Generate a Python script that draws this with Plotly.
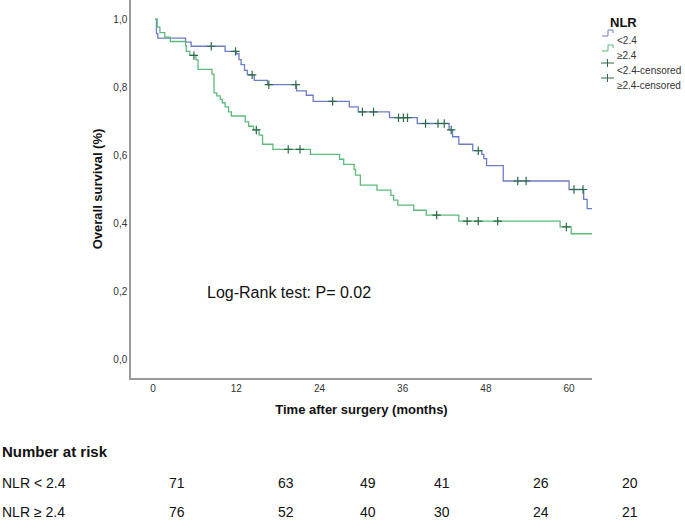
import plotly.graph_objects as go

# Kaplan-Meier steps (months, survival proportion)
low_t = [0.3, 0.5, 0.7, 4.7, 5.5, 10.4, 12.0, 12.4, 12.7, 13.2, 13.6, 14.6, 16.5,
         20.7, 22.1, 23.1, 28.3, 29.6, 34.1, 38.1, 42.7, 43.2, 44.1, 46.1, 47.4,
         47.7, 48.1, 50.5, 60.0, 62.1, 62.6, 63.3]
low_s = [1.0, 0.957, 0.944, 0.932, 0.920, 0.905, 0.898, 0.881, 0.866, 0.849, 0.836,
         0.820, 0.807, 0.789, 0.776, 0.758, 0.742, 0.727, 0.710, 0.693, 0.674, 0.654,
         0.632, 0.613, 0.602, 0.590, 0.569, 0.524, 0.499, 0.470, 0.443, 0.443]
low_cens = [8.4, 11.9, 14.3, 16.7, 20.6, 25.9, 30.2, 31.8, 35.4, 36.1, 36.7, 39.3,
            41.1, 42.0, 43.0, 46.9, 52.6, 53.8, 60.7, 62.0]

high_t = [0.3, 0.6, 1.0, 1.7, 2.5, 4.7, 4.8, 5.3, 6.2, 6.5, 8.5, 8.8, 9.2, 9.7, 10.0,
          10.4, 10.9, 11.3, 13.3, 13.8, 14.5, 15.3, 15.8, 17.3, 22.7, 26.9, 27.5,
          29.0, 29.2, 29.9, 32.3, 34.3, 34.7, 35.3, 37.6, 39.4, 44.1, 58.7, 60.3, 63.3]
high_s = [1.0, 0.976, 0.960, 0.947, 0.934, 0.922, 0.905, 0.893, 0.880, 0.852, 0.838,
          0.783, 0.774, 0.764, 0.754, 0.742, 0.727, 0.715, 0.698, 0.685, 0.674, 0.659,
          0.632, 0.617, 0.602, 0.588, 0.573, 0.558, 0.541, 0.512, 0.497, 0.482, 0.468,
          0.453, 0.438, 0.424, 0.406, 0.389, 0.369, 0.369]
high_cens = [5.9, 14.9, 19.5, 21.2, 40.9, 45.3, 46.9, 49.7, 59.6]

legend_names = ["<2.4", "\u22652.4", "<2.4-censored", "\u22652.4-censored"]

risk_label = ["NLR < 2.4", "NLR \u2265 2.4"]
risk_low = [71, 63, 49, 41, 26, 20]
risk_high = [76, 52, 40, 30, 24, 21]

x_ticks = [0, 12, 24, 36, 48, 60]
y_ticks = [0.0, 0.2, 0.4, 0.6, 0.8, 1.0]
y_ticktext = ["0,0", "0,2", "0,4", "0,6", "0,8", "1,0"]

BLUE = "#6d7cc6"
GREEN = "#5dba7c"
DARK = "#2b6a45"
FONT = "Liberation Sans, Arial, sans-serif"

# plot area in pixels
W, H, L, T = 461, 378, 131, 0


def px_x(px):
    return (px - L) / W


def px_y(py):
    return (H + T - py) / H


def surv_at(times, surv, t):
    s = surv[0]
    for ti, si in zip(times, surv):
        if ti <= t:
            s = si
    return s


fig = go.Figure()
fig.add_trace(go.Scatter(x=low_t, y=low_s, mode="lines", name=legend_names[0],
                         line=dict(color=BLUE, width=1.3, shape="hv")))
fig.add_trace(go.Scatter(x=high_t, y=high_s, mode="lines", name=legend_names[1],
                         line=dict(color=GREEN, width=1.3, shape="hv")))

for name, (t, s, c) in [(legend_names[2], (low_t, low_s, low_cens)),
                        (legend_names[3], (high_t, high_s, high_cens))]:
    fig.add_trace(go.Scatter(
        x=c, y=[surv_at(t, s, ci) for ci in c], mode="markers", name=name,
        marker=dict(symbol="cross-thin", size=6, line=dict(color=DARK, width=1.2))))

fig.add_annotation(x=19.6, y=0.197, text="Log-Rank test: P= 0.02", showarrow=False,
                   font=dict(size=16, color="#111", family=FONT))

# hand-drawn legend (SPSS style step icons)
fig.add_annotation(x=px_x(639), y=px_y(13), xref="paper", yref="paper", text="<b>NLR</b>",
                   showarrow=False, font=dict(size=13, color="#111", family=FONT))
leg_rows = [33, 48, 63, 78]
for i, (name, ry) in enumerate(zip(legend_names, leg_rows)):
    if i < 2:
        pts = [(602, ry + 3), (608, ry + 3), (608, ry - 3), (613, ry - 3), (613, ry)]
        path = "M " + " L ".join(f"{px_x(a):.4f},{px_y(b):.4f}" for a, b in pts)
        fig.add_shape(type="path", path=path, xref="paper", yref="paper",
                      line=dict(color=[BLUE, GREEN][i], width=1))
    else:
        fig.add_shape(type="line", xref="paper", yref="paper", x0=px_x(601), x1=px_x(614),
                      y0=px_y(ry), y1=px_y(ry), line=dict(color=DARK, width=1))
        fig.add_shape(type="line", xref="paper", yref="paper", x0=px_x(607.5), x1=px_x(607.5),
                      y0=px_y(ry - 4), y1=px_y(ry + 4), line=dict(color=DARK, width=1))
    fig.add_annotation(x=px_x(615), y=px_y(ry), xref="paper", yref="paper", text=name,
                       showarrow=False, xanchor="left",
                       font=dict(size=10, color="#333", family=FONT))

# number at risk table below the plot
col_px = [167, 276, 368, 452, 551, 640]
fig.add_annotation(x=px_x(0), y=px_y(462), xref="paper", yref="paper", text="<b>Number at risk</b>",
                   showarrow=False, xanchor="left", font=dict(size=15, color="#111", family=FONT))
for row_y, label, vals in [(493, risk_label[0], risk_low), (522, risk_label[1], risk_high)]:
    fig.add_annotation(x=px_x(0), y=px_y(row_y), xref="paper", yref="paper", text=label,
                       showarrow=False, xanchor="left", font=dict(size=14, color="#111", family=FONT))
    for cx, v in zip(col_px, vals):
        fig.add_annotation(x=px_x(cx), y=px_y(row_y), xref="paper", yref="paper", text=str(v),
                           showarrow=False, font=dict(size=14, color="#111", family=FONT))

fig.update_layout(
    width=685, height=528,
    margin=dict(l=L, r=685 - L - W, t=T, b=528 - H - T, autoexpand=False),
    paper_bgcolor="white", plot_bgcolor="white",
    font=dict(family=FONT, size=10, color="#333"),
    showlegend=False,
    xaxis=dict(range=[-3.17, 63.3], tickvals=x_ticks, showgrid=False, zeroline=False,
               showline=True, linecolor="#999", linewidth=1.5, ticks="",
               tickfont=dict(size=10, color="#333"),
               title=dict(text="<b>Time after surgery (months)</b>", standoff=12,
                          font=dict(size=13, color="#111"))),
    yaxis=dict(range=[-0.055, 1.056], tickvals=y_ticks, ticktext=y_ticktext, showgrid=False,
               zeroline=False, showline=True, linecolor="#999", linewidth=1.5, ticks="",
               tickfont=dict(size=10, color="#333"),
               title=dict(text="<b>Overall survival (%)</b>", standoff=8,
                          font=dict(size=13, color="#111"))),
)

# drop the default 8px page margin so the figure sits at the window's corner
fig.write_html("out.html", config={"displayModeBar": False},
               post_script="document.body.style.margin='0';")
